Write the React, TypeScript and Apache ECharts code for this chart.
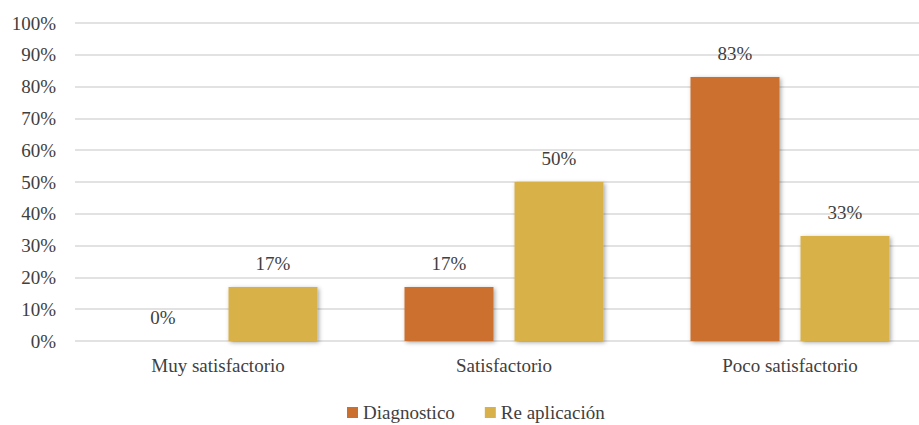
import React, { useEffect, useRef } from "react";
import * as echarts from "echarts";

const categories = ["Muy satisfactorio", "Satisfactorio", "Poco satisfactorio"];
const diagnostico = [0, 17, 83];
const reAplicacion = [17, 50, 33];
const seriesNames = ["Diagnostico", "Re aplicación"];

const FONT = "Liberation Serif, Times New Roman, serif";
const FS = 19;
const TEXT = "#404040";

export default function App() {
  const ref = useRef<HTMLDivElement>(null);
  useEffect(() => {
    if (!ref.current) return;
    const chart = echarts.init(ref.current, null, { renderer: "svg" });
    const shadow = {
      shadowColor: "rgba(0,0,0,0.35)",
      shadowBlur: 4,
      shadowOffsetX: 1.5,
      shadowOffsetY: 1.5,
    };
    const label = {
      show: true,
      position: "top" as const,
      distance: 14,
      formatter: "{c}%",
      fontFamily: FONT,
      fontSize: FS,
      color: TEXT,
    };
    chart.setOption({
      animation: false,
      textStyle: { fontFamily: FONT },
      grid: { left: 75, top: 23, bottom: 84, width: 858, containLabel: false },
      legend: {
        left: 342,
        top: 398,
        itemWidth: 11,
        itemHeight: 11,
        itemGap: 30,
        icon: "rect",
        textStyle: { fontFamily: FONT, fontSize: FS, color: TEXT },
        data: seriesNames,
      },
      xAxis: {
        type: "category",
        data: categories,
        axisLine: { show: false },
        axisTick: { show: false },
        axisLabel: { fontFamily: FONT, fontSize: FS, color: TEXT, margin: 15 },
      },
      yAxis: {
        type: "value",
        min: 0,
        max: 100,
        interval: 10,
        axisLine: { show: false },
        axisTick: { show: false },
        axisLabel: {
          formatter: "{value}%",
          fontFamily: FONT,
          fontSize: FS,
          color: TEXT,
          margin: 19,
        },
        splitLine: { lineStyle: { color: "#D9D9D9", width: 1.5 } },
      },
      series: [
        {
          name: seriesNames[0],
          type: "bar",
          data: diagnostico,
          barWidth: 89,
          barGap: "23.6%",
          itemStyle: { color: "#CB6F2E", ...shadow },
          label,
        },
        {
          name: seriesNames[1],
          type: "bar",
          data: reAplicacion,
          barWidth: 89,
          itemStyle: { color: "#D8B14A", ...shadow },
          label,
        },
      ],
    });
    return () => chart.dispose();
  }, []);
  return (
    <div
      style={{
        position: "fixed",
        left: 0,
        top: 0,
        width: 919,
        height: 425,
        overflow: "hidden",
        background: "#fff",
      }}
    >
      <div ref={ref} style={{ width: 945, height: 425 }} />
    </div>
  );
}
